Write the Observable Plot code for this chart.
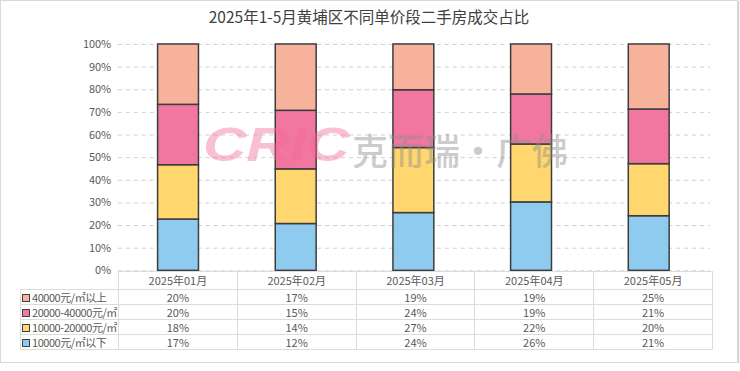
<!DOCTYPE html>
<html><head><meta charset="utf-8">
<script src="https://cdn.jsdelivr.net/npm/d3@7"></script>
<script src="https://cdn.jsdelivr.net/npm/@observablehq/plot@0.6"></script>
<style>
html,body{margin:0;padding:0;background:#fff;}
body{font-family:"Noto Sans CJK SC","Noto Sans",sans-serif;}
#frame{position:relative;width:738px;height:363px;box-shadow:inset 0 0 0 1px #d9d9d9, 1px 1px 1px #cfcfcf;overflow:hidden;background:#fff;}
#title{position:absolute;left:0;top:5px;width:738px;text-align:center;font-size:15.5px;color:#404040;line-height:22px;}
#chart{position:absolute;left:0;top:34px;}
#chart svg{overflow:visible;}
#wm{position:absolute;left:0;top:0;width:738px;height:363px;pointer-events:none;}
#wm span.w{white-space:nowrap;position:absolute;}
#wm .cric{left:203px;top:117px;font:italic 900 48px "Liberation Sans","DejaVu Sans",sans-serif;color:rgba(241,105,145,0.42);transform:scaleX(1.25);transform-origin:left center;}
#wm .cn{left:352px;top:123px;font:500 36px "Noto Sans CJK SC",sans-serif;color:rgba(140,140,140,0.45);letter-spacing:0px;}
#tbl{position:absolute;left:20px;top:271px;width:692px;border-collapse:collapse;table-layout:fixed;font-size:11px;color:#595959;}
#tbl td{border:1px solid #dcdcdc;padding:0;text-align:center;height:14px;line-height:14px;white-space:nowrap;overflow:visible;}
#tbl tr.hd td{height:17px;line-height:17px;}
#tbl td.corner{border:none;}
#tbl td.lab{text-align:left;padding-left:1px;letter-spacing:-0.45px;}
.sw{display:inline-block;width:6px;height:6px;border:1px solid #404040;margin-right:2px;vertical-align:0px;}
</style>
</head><body>
<div id="frame">
  <div id="title">2025年1-5月黄埔区不同单价段二手房成交占比</div>
  <div id="chart"></div>
  <table id="tbl"></table>
  <div id="wm"><span class="w cric">CRIC</span><span class="w cn">克而瑞·广佛</span></div>
</div>
<script>
const months = ["2025年01月","2025年02月","2025年03月","2025年04月","2025年05月"];
const seriesNames = ["10000元/㎡以下","10000-20000元/㎡","20000-40000元/㎡","40000元/㎡以上"];
const seriesColors = ["#8ECBEF","#FFD76E","#F177A1","#F7B29C"];
const below10k = [17,12,24,26,21];
const from10kTo20k = [18,14,27,22,20];
const from20kTo40k = [20,15,24,19,21];
const above40k = [20,17,19,19,25];
const yTicks = [0,0.1,0.2,0.3,0.4,0.5,0.6,0.7,0.8,0.9,1];

const seriesValues = [below10k, from10kTo20k, from20kTo40k, above40k];
const data = [];
months.forEach((m,i)=>seriesNames.forEach((s,j)=>data.push({month:m, series:s, value:seriesValues[j][i]})));

const chart = Plot.plot({
  width: 740,
  height: 238,
  marginLeft: 118,
  marginRight: 28,
  marginTop: 10,
  marginBottom: 1,
  style: {fontSize:"11px", color:"#595959", fontFamily:"'Noto Sans CJK SC','Noto Sans',sans-serif", background:"transparent", overflow:"visible"},
  x: {domain: months, paddingInner: 0.65, paddingOuter: 0.325, axis: null},
  y: {domain: [0,1]},
  color: {domain: seriesNames, range: seriesColors},
  marks: [
    Plot.gridY(yTicks, {stroke:"#d0d0d0", strokeOpacity:1, strokeDasharray:"4,4"}),
    Plot.barY(data, Plot.stackY({offset:"normalize", order: seriesNames}, {x:"month", y:"value", fill:"series", stroke:"#3c3c3c", strokeWidth:1.5})),
    Plot.axisY(yTicks, {tickSize:0, tickPadding:7, tickFormat:d3.format(".0%"), label:null})
  ]
});
document.getElementById("chart").appendChild(chart);

// data table
const tbl = document.getElementById("tbl");
const cg = document.createElement("colgroup");
[98, ...months.map(()=>118.8)].forEach(w=>{const c=document.createElement("col"); c.style.width=w+"px"; cg.appendChild(c);});
tbl.appendChild(cg);
const hd = document.createElement("tr"); hd.className="hd";
const corner = document.createElement("td"); corner.className="corner"; hd.appendChild(corner);
months.forEach(m=>{const td=document.createElement("td"); td.textContent=m; hd.appendChild(td);});
tbl.appendChild(hd);
for (let j=seriesNames.length-1;j>=0;j--){
  const tr=document.createElement("tr");
  const lab=document.createElement("td"); lab.className="lab";
  const sw=document.createElement("span"); sw.className="sw"; sw.style.background=seriesColors[j];
  lab.appendChild(sw); lab.appendChild(document.createTextNode(seriesNames[j]));
  tr.appendChild(lab);
  seriesValues[j].forEach(v=>{const td=document.createElement("td"); td.textContent=v+"%"; tr.appendChild(td);});
  tbl.appendChild(tr);
}
</script>
</body></html>
